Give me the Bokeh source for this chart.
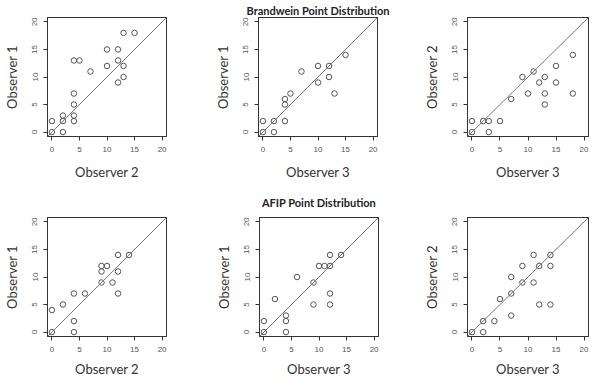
from bokeh.plotting import figure
from bokeh.layouts import column, row
from bokeh.models import Range1d, FixedTicker, Slope, Title, LinearAxis
from bokeh.embed import file_html
from bokeh.resources import INLINE

TICKS = [0, 5, 10, 15, 20]

# Brandwein point distribution
b_o2_vs_o1_x = [0, 0, 2, 2, 2, 4, 4, 4, 4, 4, 5, 7, 10, 10, 12, 12, 12, 13, 13, 13, 15]
b_o2_vs_o1_y = [0, 2, 0, 2, 3, 2, 3, 5, 7, 13, 13, 11, 12, 15, 15, 13, 9, 12, 10, 18, 18]

b_o3_vs_o1_x = [0, 0, 2, 2, 4, 4, 4, 5, 7, 10, 10, 12, 12, 13, 15]
b_o3_vs_o1_y = [0, 2, 2, 0, 2, 5, 6, 7, 11, 12, 9, 12, 10, 7, 14]

b_o3_vs_o2_x = [0, 0, 2, 3, 3, 5, 7, 9, 11, 10, 12, 13, 13, 13, 15, 15, 18, 18]
b_o3_vs_o2_y = [0, 2, 2, 2, 0, 2, 6, 10, 11, 7, 9, 10, 7, 5, 12, 9, 14, 7]

# AFIP point distribution
a_o2_vs_o1_x = [0, 0, 2, 4, 4, 4, 6, 9, 9, 9, 10, 11, 12, 12, 12, 14]
a_o2_vs_o1_y = [0, 4, 5, 7, 2, 0, 7, 9, 11, 12, 12, 9, 14, 11, 7, 14]

a_o3_vs_o1_x = [0, 0, 2, 4, 4, 4, 6, 9, 9, 10, 11, 12, 12, 12, 12, 14]
a_o3_vs_o1_y = [0, 2, 6, 0, 2, 3, 10, 9, 5, 12, 12, 12, 14, 7, 5, 14]

a_o3_vs_o2_x = [0, 2, 2, 4, 5, 7, 7, 7, 9, 9, 11, 11, 12, 12, 14, 14, 14]
a_o3_vs_o2_y = [0, 0, 2, 2, 6, 3, 7, 10, 9, 12, 9, 14, 12, 5, 14, 12, 5]

TITLES = ["Brandwein Point Distribution", "AFIP Point Distribution"]

BOX = "#333333"


def box_axis():
    ax = LinearAxis(ticker=FixedTicker(ticks=[]), axis_line_color=BOX, axis_line_width=1,
                    major_tick_line_color=None, minor_tick_line_color=None,
                    major_tick_in=0, major_tick_out=0, minor_tick_in=0, minor_tick_out=0,
                    major_label_standoff=0, major_label_text_font_size="0px",
                    axis_label_standoff=0)
    return ax


def make_panel(xs, ys, xlab, ylab, w, h, bl, br, bt, bb, xstand):
    p = figure(width=w, height=h,
               x_range=Range1d(-0.8, 20.8), y_range=Range1d(-0.8, 20.8),
               output_backend="svg", toolbar_location=None,
               min_border_left=bl, min_border_right=br,
               min_border_top=bt, min_border_bottom=bb)
    xax = p.below[0]
    yax = p.left[0]
    p.grid.visible = False
    p.outline_line_color = BOX
    p.outline_line_width = 1
    p.background_fill_color = None
    p.border_fill_color = None
    p.add_layout(box_axis(), "right")
    p.add_layout(box_axis(), "above")
    p.add_layout(Slope(gradient=1, y_intercept=0, line_color="#777777", line_width=1))
    p.scatter(xs, ys, marker="circle", size=5.5, fill_color=None,
              line_color="#555555", line_width=1)
    for ax in (xax, yax):
        ax.ticker = FixedTicker(ticks=TICKS)
        ax.minor_tick_line_color = None
        ax.major_tick_in = 0
        ax.major_tick_out = 4
        ax.axis_line_color = BOX
        ax.major_tick_line_color = BOX
        ax.major_label_text_font = "Liberation Sans"
        ax.major_label_text_font_size = "8px"
        ax.major_label_text_color = "#555555"
        ax.major_label_standoff = 6
        ax.axis_label_text_font = "Lato"
        ax.axis_label_text_font_size = "13px"
        ax.axis_label_text_font_style = "normal"
        ax.axis_label_text_color = "#333333"
    xax.axis_label = xlab
    yax.axis_label = ylab
    xax.axis_label_standoff = xstand
    yax.axis_label_standoff = 10
    yax.major_label_orientation = "vertical"
    return p


H1, H2 = 185, 196
f1 = make_panel(b_o2_vs_o1_x, b_o2_vs_o1_y, "Observer 2", "Observer 1", 195, H1, 47, 29, 17, 49, 9)
f2 = make_panel(b_o3_vs_o1_x, b_o3_vs_o1_y, "Observer 3", "Observer 1", 195, H1, 63, 13, 17, 49, 9)
f3 = make_panel(b_o3_vs_o2_x, b_o3_vs_o2_y, "Observer 3", "Observer 2", 207, H1, 77, 9, 17, 49, 9)
f4 = make_panel(a_o2_vs_o1_x, a_o2_vs_o1_y, "Observer 2", "Observer 1", 195, H2, 47, 29, 32, 45, 6)
f5 = make_panel(a_o3_vs_o1_x, a_o3_vs_o1_y, "Observer 3", "Observer 1", 195, H2, 64, 12, 32, 45, 6)
f6 = make_panel(a_o3_vs_o2_x, a_o3_vs_o2_y, "Observer 3", "Observer 2", 207, H2, 77, 9, 32, 45, 6)

f2.add_layout(Title(text=TITLES[0], align="center", standoff=1, text_font="Lato",
                    text_font_style="bold", text_font_size="11px", text_color="#222222"),
              "above")
f5.add_layout(Title(text=TITLES[1], align="center", standoff=17, text_font="Lato",
                    text_font_style="bold", text_font_size="11px", text_color="#222222"),
              "above")

layout = column(row(f1, f2, f3), row(f4, f5, f6))
open("out.html", "w").write(file_html(layout, INLINE))
